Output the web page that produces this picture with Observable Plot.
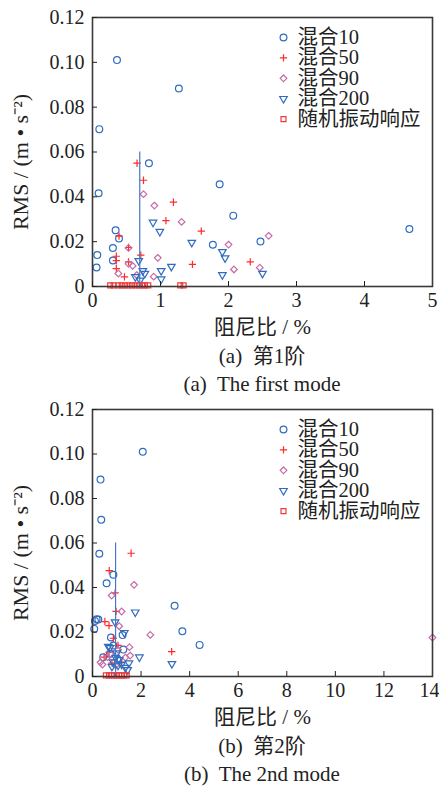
<!DOCTYPE html>
<html><head><meta charset="utf-8">
<script src="https://cdn.jsdelivr.net/npm/d3@7"></script>
<script src="https://cdn.jsdelivr.net/npm/@observablehq/plot@0.6"></script>
<style>
body{margin:0;background:#fff;}
#wrap{position:relative;width:439px;height:787px;overflow:hidden;font-family:'Liberation Serif','Noto Sans CJK SC',serif;color:#222;}
#wrap svg, #wrap svg text{font-family:'Liberation Serif','Noto Sans CJK SC',serif !important;}
.panel{position:absolute;left:0;}
.cap{position:absolute;left:0;width:524px;text-align:center;font-size:21px;line-height:24px;white-space:pre;}
</style></head><body><div id="wrap"></div>
<script>
// ---- data ----
const seriesNames = ["混合10", "混合50", "混合90", "混合200", "随机振动响应"];
const yTicks = [0, 0.02, 0.04, 0.06, 0.08, 0.10, 0.12];
const xTicks1 = [0, 1, 2, 3, 4, 5];
const xTicks2 = [0, 2, 4, 6, 8, 10, 12, 14];
const xLabel = "阻尼比 / %";
const yLabel = "RMS / (m • s⁻²)";
const captions1 = ["(a)  第1阶", "(a)  The first mode"];
const captions2 = ["(b)  第2阶", "(b)  The 2nd mode"];
const refLineX = [0.695, 0.95];
const refLineTop = 0.06;

// mode 1
const m1Mix10X = [0.36, 1.27, 0.10, 0.09, 0.83, 1.87, 2.07, 0.34, 0.39, 0.30, 0.07, 0.30, 0.06, 1.77, 2.47, 4.66];
const m1Mix10Y = [0.101, 0.0883, 0.0702, 0.0416, 0.055, 0.0456, 0.0316, 0.0251, 0.0214, 0.0172, 0.014, 0.0116, 0.0085, 0.0186, 0.0201, 0.0256];
const m1Mix50X = [0.655, 0.75, 1.19, 1.08, 1.60, 0.39, 0.35, 0.35, 0.35, 0.53, 0.53, 0.71, 0.47, 1.47, 2.32];
const m1Mix50Y = [0.055, 0.0474, 0.0376, 0.0294, 0.0247, 0.0225, 0.0135, 0.0115, 0.008, 0.0174, 0.011, 0.014, 0.0043, 0.0099, 0.011];
const m1Mix90X = [0.75, 0.91, 1.31, 0.96, 2.0, 2.08, 0.53, 0.53, 0.59, 0.38, 0.65, 0.90, 2.46, 2.59];
const m1Mix90Y = [0.0412, 0.0361, 0.0288, 0.0128, 0.0187, 0.0076, 0.0172, 0.0101, 0.0092, 0.0058, 0.0051, 0.0044, 0.0084, 0.0226];
const m1Mix200X = [0.89, 0.99, 1.46, 1.91, 1.95, 1.91, 2.5, 1.16, 1.01, 1.01, 0.68, 0.74, 0.77, 0.63, 0.70];
const m1Mix200Y = [0.0286, 0.0245, 0.0196, 0.0155, 0.0127, 0.0052, 0.0058, 0.0089, 0.007, 0.0033, 0.0115, 0.007, 0.0058, 0.0043, 0.0028];
const m1RandX = [0.26, 0.31, 0.38, 0.43, 0.48, 0.53, 0.58, 0.63, 0.68, 0.73, 0.77, 0.82, 1.29, 1.34];
const m1RandY = [0.0005, 0.0005, 0.0005, 0.0005, 0.0005, 0.0005, 0.0005, 0.0005, 0.0005, 0.0005, 0.0005, 0.0005, 0.0005, 0.0005];

// mode 2
const m2Mix10X = [2.07, 0.33, 0.36, 0.28, 0.86, 0.58, 3.38, 3.70, 4.41, 0.24, 0.17, 0.10, 0.07, 0.76, 1.24, 1.27, 0.44, 0.86, 0.72, 1.02];
const m2Mix10Y = [0.101, 0.0885, 0.0704, 0.0552, 0.0457, 0.0419, 0.0318, 0.0203, 0.0142, 0.0256, 0.0257, 0.025, 0.0214, 0.0175, 0.0186, 0.0121, 0.0086, 0.0139, 0.0102, 0.008];
const m2Mix50X = [1.59, 0.69, 0.93, 0.97, 0.51, 0.68, 0.86, 0.68, 0.48, 3.26, 1.05, 0.80, 1.20];
const m2Mix50Y = [0.0554, 0.0476, 0.0376, 0.0293, 0.0247, 0.0229, 0.0172, 0.0109, 0.0087, 0.0112, 0.014, 0.006, 0.0062];
const m2Mix90X = [1.71, 0.79, 1.20, 2.38, 1.10, 1.52, 1.55, 0.41, 0.33, 0.62, 0.75, 1.05, 1.35, 0.95, 14.0];
const m2Mix90Y = [0.0412, 0.0364, 0.0292, 0.0187, 0.0226, 0.0132, 0.0094, 0.0054, 0.0064, 0.0087, 0.010, 0.012, 0.0085, 0.005, 0.0175];
const m2Mix200X = [1.76, 0.93, 1.31, 1.93, 3.27, 0.72, 0.65, 1.0, 1.1, 1.2, 1.35, 1.45, 0.85, 1.05, 1.5, 0.95, 0.8];
const m2Mix200Y = [0.0289, 0.0245, 0.0197, 0.0087, 0.0057, 0.0129, 0.0135, 0.0105, 0.0075, 0.0055, 0.004, 0.003, 0.0065, 0.005, 0.006, 0.0085, 0.0045];
const m2RandX = [0.55, 0.68, 0.79, 0.89, 1.0, 1.1, 1.2, 1.3, 1.41];
const m2RandY = [0.0005, 0.0005, 0.0005, 0.0005, 0.0005, 0.0005, 0.0005, 0.0005, 0.0005];

// ---- styles ----
const symbols = ["circle", "plus", "diamond2", "triangle", "square"];
const rotations = [0, 0, 0, 180, 0];
const colors = ["#2f6cbf", "#ff2b2b", "#c66ba6", "#2f6cbf", "#f23a3a"];
const radii = [3.4, 2.5, 3.0, 2.8, 2.8];
const font = "'Liberation Serif','Noto Sans CJK SC',serif";

function makeChart(cfg) {
  const marks = [];
  cfg.series.forEach(([xs, ys], i) => {
    const data = xs.map((x, j) => ({x, y: ys[j]}));
    marks.push(Plot.dot(data, {x: "x", y: "y", symbol: symbols[i], rotate: rotations[i], r: radii[i], stroke: colors[i], fill: "none", strokeWidth: 1.2}));
  });
  marks.push(Plot.ruleX([{x: cfg.refX, y1: 0, y2: refLineTop}], {x: "x", y1: "y1", y2: "y2", stroke: "#4677c2", strokeWidth: 1.2}));
  marks.push(Plot.frame({stroke: "#3a3a3a", strokeWidth: 1.6}));
  marks.push(Plot.axisY({ticks: yTicks, tickSize: -5, tickPadding: 13, tickFormat: d => d === 0 ? "0" : d.toFixed(2), label: null, fontSize: 20, fontFamily: font}));
  const last = cfg.xTicks[cfg.xTicks.length - 1];
  marks.push(Plot.axisX({ticks: cfg.xTicks.slice(0, -1), tickSize: -5, tickPadding: 11, tickFormat: d => String(d), label: null, fontSize: 20, fontFamily: font}));
  marks.push(Plot.axisX({ticks: [last], tickSize: 0, tickPadding: 6, tickFormat: d => String(d), label: null, fontSize: 20, fontFamily: font, dx: cfg.lastDx}));
  marks.push(Plot.text([xLabel], {text: d => d, frameAnchor: "bottom", dy: 41, fontSize: 21, textAnchor: "middle", lineAnchor: "middle", fontFamily: font}));
  marks.push(Plot.text([yLabel], {text: d => d, frameAnchor: "left", dx: -72, dy: 10, rotate: -90, fontSize: 22, textAnchor: "middle", lineAnchor: "middle", fontFamily: font}));
  seriesNames.forEach((name, i) => {
    marks.push(Plot.dot([name], {frameAnchor: "top-right", dx: -149, dy: 20 + 20.4 * i, symbol: symbols[i], rotate: rotations[i], r: radii[i], stroke: colors[i], fill: "none", strokeWidth: 1.2}));
    marks.push(Plot.text([name], {text: d => d, frameAnchor: "top-right", dx: -135, dy: 20 + 20.4 * i, textAnchor: "start", lineAnchor: "middle", fontSize: 20.5, fontFamily: font}));
  });
  return Plot.plot({
    width: 439, height: cfg.height,
    marginLeft: 92, marginRight: 7, marginTop: cfg.marginTop, marginBottom: cfg.marginBottom,
    x: {domain: cfg.xDomain},
    y: {domain: [0, 0.12]},
    style: {fontFamily: font, fontSize: "20px", color: "#222", background: "transparent", overflow: "visible"},
    marks
  });
}

const wrap = document.getElementById("wrap");
function place(el, top) { el.classList.add("panel"); el.style.top = top + "px"; wrap.appendChild(el); }
function caption(text, centerY) {
  const d = document.createElement("div"); d.className = "cap"; d.textContent = text; d.style.top = (centerY - 12) + "px"; wrap.appendChild(d);
}

const c1 = makeChart({
  height: 340, marginTop: 17, marginBottom: 54, xDomain: [0, 5], xTicks: xTicks1, refX: refLineX[0], lastDx: 0,
  series: [[m1Mix10X, m1Mix10Y], [m1Mix50X, m1Mix50Y], [m1Mix90X, m1Mix90Y], [m1Mix200X, m1Mix200Y], [m1RandX, m1RandY]]
});
place(c1, 0);
caption(captions1[0], 356);
caption(captions1[1], 384);

const c2 = makeChart({
  height: 340, marginTop: 17, marginBottom: 56, xDomain: [0, 14], xTicks: xTicks2, refX: refLineX[1], lastDx: -3,
  series: [[m2Mix10X, m2Mix10Y], [m2Mix50X, m2Mix50Y], [m2Mix90X, m2Mix90Y], [m2Mix200X, m2Mix200Y], [m2RandX, m2RandY]]
});
place(c2, 392);
caption(captions2[0], 746);
caption(captions2[1], 774);
</script></body></html>
